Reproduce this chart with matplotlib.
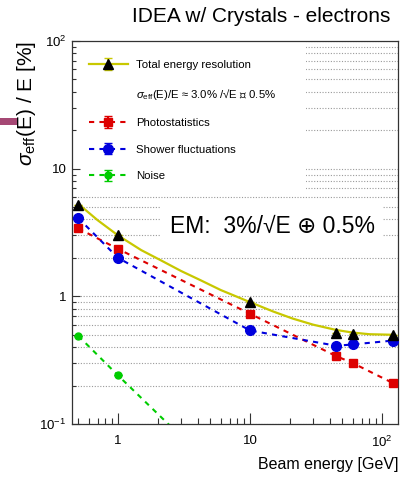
"""IDEA w/ Crystals - electrons: energy resolution vs beam energy."""
import matplotlib
matplotlib.use("Agg")
import matplotlib.pyplot as plt
from matplotlib.patches import Rectangle
from matplotlib.lines import Line2D
from matplotlib.legend_handler import HandlerTuple
from matplotlib.ticker import FixedLocator, FixedFormatter, NullFormatter, LogLocator

FONT = ["Liberation Sans", "DejaVu Sans"]
plt.rcParams["font.family"] = FONT
plt.rcParams["mathtext.fontset"] = "custom"
plt.rcParams["mathtext.rm"] = "Liberation Sans"
plt.rcParams["mathtext.it"] = "Liberation Sans:italic"
plt.rcParams["mathtext.bf"] = "Liberation Sans:bold"

# --- data ---
energy = [0.5, 1, 10, 45, 60, 120]
total = [5.2, 3.0, 0.90, 0.52, 0.51, 0.50]
photostat = [3.4, 2.35, 0.73, 0.34, 0.30, 0.21]
shower = [4.1, 2.0, 0.54, 0.41, 0.42, 0.45]
noise = [0.49, 0.24, 0.024, 0.0053, 0.004, 0.002]
zero_err = [0, 0, 0, 0, 0, 0]

fit_energy = [0.5, 0.7, 1, 1.5, 2.1, 3, 4.2, 6, 10, 15, 21, 30, 45, 60, 80, 120]
fit_total = [5.3, 3.95, 3.0, 2.3, 1.92, 1.58, 1.34, 1.12, 0.90, 0.76, 0.67, 0.60,
             0.545, 0.52, 0.505, 0.50]

xticks = [1, 10, 100]
xtick_labels = ["1", "10", "10$^{2}$"]
yticks = [0.1, 1, 10, 100]
ytick_labels = ["10$^{-1}$", "1", "10", "10$^{2}$"]

YELLOW = "#c8c800"
RED = "#dd0000"
BLUE = "#0000dd"
GREEN = "#00cc00"
DASH = (0, (2.5, 2.5))

fig = plt.figure(figsize=(4.11, 4.78), dpi=100)
ax = fig.add_axes([72 / 411, 1 - 424 / 478, 326 / 411, 383 / 478])
ax.set_xscale("log")
ax.set_yscale("log")
ax.set_xlim(0.448, 132)
ax.set_ylim(0.1, 100)

# dotted horizontal grid at every decade subdivision (kept under the axis ticks)
grid_y = [m * 10.0 ** k for k in range(-1, 2) for m in range(1, 10)] + [100]
for gy in grid_y:
    ax.axhline(gy, ls=(0, (1, 1.5)), lw=0.8, color="#9a9a9a", zorder=0.5)

# white panes of legend and EM label hide the grid
ax.add_patch(Rectangle((0, 0.603), 0.718, 0.397, transform=ax.transAxes,
                       fc="white", ec="none", zorder=1))
ax.add_patch(Rectangle((0.27, 0.467), 0.681, 0.118, transform=ax.transAxes,
                       fc="white", ec="none", zorder=1))

fit_line, = ax.plot(fit_energy, fit_total, "-", color=YELLOW, lw=1.6, zorder=3)
tri = ax.errorbar(energy, total, yerr=zero_err, fmt="^", color="k", ms=7,
                  ecolor=YELLOW, capsize=3, elinewidth=1.2, zorder=5)
ph = ax.errorbar(energy, photostat, yerr=zero_err, fmt="s", color=RED, ms=6,
                 ls=DASH, lw=1.5, capsize=3, zorder=4)
sh = ax.errorbar(energy, shower, yerr=zero_err, fmt="o", color=BLUE, ms=7,
                 ls=DASH, lw=1.5, capsize=3, zorder=4)
no = ax.errorbar(energy, noise, yerr=zero_err, fmt="o", color=GREEN, ms=5,
                 ls=DASH, lw=1.5, capsize=3, zorder=4)

blank = Line2D([], [], ls="none")
ax.legend([(fit_line, tri), blank, ph, sh, no],
          ["Total energy resolution",
           r"$\sigma_{\rm eff}$(E)/E ≈ 3.0% /√E ⊕ 0.5%",
           "Photostatistics", "Shower fluctuations", "Noise"],
          handler_map={tuple: HandlerTuple(ndivide=1)},
          loc="upper left", bbox_to_anchor=(0.052, 0.95), frameon=False,
          fontsize=8.2, handlelength=3.4, handletextpad=0.75,
          labelspacing=1.45, borderaxespad=0, borderpad=0)

ax.text(0.30, 0.515, "EM:  3%/√E ⊕ 0.5%", transform=ax.transAxes,
        fontsize=16.5, va="center", ha="left", zorder=6)

# ticks: inside, left and bottom only
ax.xaxis.set_major_locator(FixedLocator(xticks))
ax.xaxis.set_major_formatter(FixedFormatter(xtick_labels))
ax.xaxis.set_minor_locator(LogLocator(base=10, subs=range(2, 10)))
ax.xaxis.set_minor_formatter(NullFormatter())
ax.yaxis.set_major_locator(FixedLocator(yticks))
ax.yaxis.set_major_formatter(FixedFormatter(ytick_labels))
ax.yaxis.set_minor_locator(LogLocator(base=10, subs=range(2, 10)))
ax.yaxis.set_minor_formatter(NullFormatter())
ax.tick_params(which="both", direction="in", top=False, right=False,
               labelsize=9.5, width=0.8, color="#333333")
ax.tick_params(axis="x", which="major", length=8, pad=8)
ax.tick_params(axis="x", which="minor", length=4.5)
ax.tick_params(axis="y", which="major", length=5.5, pad=4)
ax.tick_params(axis="y", which="minor", length=3)
for s in ax.spines.values():
    s.set_linewidth(0.9)
    s.set_color("#333333")

ax.set_xlabel("Beam energy [GeV]", fontsize=11.5, ha="right")
ax.xaxis.set_label_coords(1.0, -0.086)
ax.set_ylabel(r"$\sigma_{\rm eff}$(E) / E [%]", fontsize=15, ha="right")
ax.yaxis.set_label_coords(-0.105, 1.0)

fig.text(390 / 411, 1 - 7 / 478, "IDEA w/ Crystals - electrons",
         fontsize=15, ha="right", va="top")

# slide artifact at left edge
fig.patches.append(Rectangle((0, 1 - 125 / 478), 17 / 411, 7 / 478,
                             transform=fig.transFigure, fc="#a54874", ec="none"))

fig.savefig("out.png", dpi=100)
